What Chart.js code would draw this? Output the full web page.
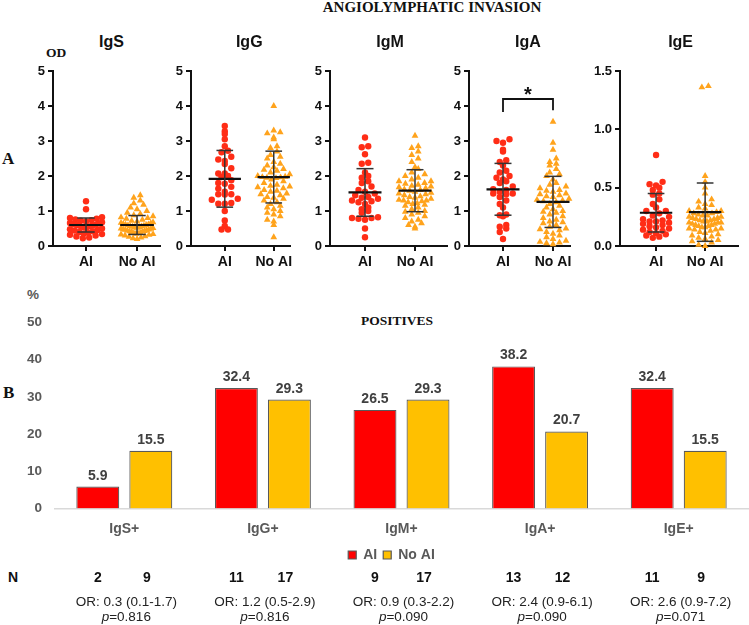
<!DOCTYPE html>
<html><head><meta charset="utf-8">
<script src="https://cdn.jsdelivr.net/npm/chart.js@4.4.1/dist/chart.umd.min.js"></script>
<style>
html,body{margin:0;padding:0;background:#fff;}
body{width:749px;height:625px;position:relative;overflow:hidden;font-family:"Liberation Sans",Arial,sans-serif;}
.t{position:absolute;white-space:nowrap;}
.serif{font-family:"Liberation Serif","Times New Roman",serif;font-weight:bold;color:#111;}
canvas{position:absolute;}
</style></head><body>
<div class="t serif" style="left:432px;top:0px;font-size:15px;line-height:15px;transform:translateX(-50%)">ANGIOLYMPHATIC INVASION</div>
<div class="t serif" style="left:46px;top:45.7px;font-size:13.5px;line-height:13.5px">OD</div>
<div class="t serif" style="left:2px;top:150px;font-size:17px;line-height:17px">A</div>
<div class="t serif" style="left:3px;top:384px;font-size:17px;line-height:17px">B</div>
<div class="t serif" style="left:397px;top:313.7px;font-size:13.5px;line-height:13.5px;transform:translateX(-50%)">POSITIVES</div>
<div class="t" style="left:27px;top:288px;font-size:13.5px;line-height:13.5px;font-weight:bold;color:#595959">%</div>
<div class="t" style="left:13px;top:569.9px;font-size:14px;line-height:14px;font-weight:bold;color:#111;transform:translateX(-50%)">N</div>
<script>
// ---------- DATA (panel A: OD values) ----------
const panelNames = ['IgS','IgG','IgM','IgA','IgE'];
const groupLabels = ['AI','No AI'];

const igsAI = [1.28,1.05,0.82,0.80,0.78,0.76,0.74,0.72,0.70,0.68,0.66,0.64,0.62,0.61,0.60,0.59,0.58,0.56,0.54,0.52,0.50,0.48,0.46,0.44,0.42,0.40,0.38,0.36,0.34,0.32,0.30,0.27,0.24,0.22];
const igsNoAI = [1.45,1.38,1.30,1.22,1.18,1.10,1.05,1.00,0.95,0.92,0.88,0.85,0.82,0.80,0.78,0.75,0.72,0.70,0.68,0.66,0.65,0.63,0.62,0.61,0.60,0.59,0.58,0.57,0.56,0.55,0.54,0.53,0.52,0.51,0.50,0.49,0.48,0.47,0.46,0.45,0.44,0.43,0.42,0.41,0.40,0.38,0.37,0.36,0.35,0.34,0.33,0.32,0.30,0.28,0.26,0.24,0.22,0.20];

const iggAI = [3.43,3.28,3.20,3.05,2.85,2.72,2.68,2.55,2.47,2.43,2.34,2.22,2.07,2.07,2.00,1.97,1.88,1.80,1.78,1.69,1.64,1.55,1.48,1.48,1.47,1.35,1.32,1.23,1.21,1.21,1.00,0.73,0.57,0.47,0.47];
const iggNoAI = [4.00,3.30,3.25,3.22,3.10,3.05,2.85,2.80,2.70,2.60,2.55,2.50,2.40,2.35,2.30,2.25,2.20,2.18,2.15,2.10,2.05,2.00,1.98,1.97,1.96,1.95,1.94,1.90,1.85,1.80,1.75,1.72,1.70,1.68,1.65,1.60,1.58,1.55,1.50,1.48,1.45,1.40,1.38,1.35,1.30,1.25,1.20,1.15,1.10,1.05,1.00,0.95,0.90,0.85,0.75,0.70,0.60,0.25];

const igmAI = [3.10,2.85,2.82,2.62,2.38,2.35,2.10,2.00,1.95,1.85,1.80,1.70,1.60,1.55,1.50,1.45,1.40,1.38,1.35,1.30,1.28,1.25,1.20,1.10,1.05,1.00,0.95,0.82,0.80,0.80,0.78,0.75,0.50,0.25];
const igmNoAI = [3.15,2.85,2.80,2.70,2.60,2.50,2.40,2.25,2.20,2.10,2.05,2.00,1.95,1.90,1.85,1.85,1.80,1.78,1.75,1.72,1.70,1.68,1.65,1.62,1.60,1.58,1.55,1.52,1.50,1.48,1.45,1.42,1.40,1.38,1.35,1.32,1.30,1.30,1.28,1.25,1.22,1.20,1.18,1.15,1.10,1.05,1.00,0.98,0.95,0.90,0.85,0.80,0.75,0.70,0.65,0.60,0.55,0.50];

const igaAI = [3.05,3.00,2.95,2.75,2.70,2.45,2.40,2.30,2.15,2.10,2.00,1.95,1.90,1.85,1.80,1.70,1.62,1.60,1.55,1.50,1.50,1.48,1.40,1.30,1.20,1.10,0.90,0.88,0.85,0.60,0.55,0.50,0.40,0.20];
const igaNoAI = [3.55,2.95,2.75,2.50,2.40,2.35,2.30,2.20,2.10,2.05,2.00,1.90,1.80,1.75,1.70,1.65,1.60,1.58,1.55,1.50,1.48,1.45,1.42,1.40,1.35,1.32,1.30,1.28,1.25,1.20,1.15,1.10,1.05,1.00,0.98,0.95,0.90,0.85,0.80,0.75,0.70,0.68,0.65,0.60,0.55,0.50,0.48,0.45,0.40,0.35,0.30,0.25,0.20,0.15,0.12,0.10,0.08,0.05];

const igeAI = [0.78,0.55,0.53,0.52,0.50,0.48,0.45,0.44,0.40,0.36,0.33,0.30,0.30,0.28,0.26,0.25,0.23,0.22,0.21,0.21,0.20,0.19,0.18,0.17,0.16,0.15,0.14,0.13,0.12,0.11,0.10,0.09,0.08,0.07];
const igeNoAI = [1.37,1.36,0.60,0.55,0.50,0.45,0.40,0.38,0.36,0.35,0.33,0.32,0.30,0.30,0.29,0.28,0.28,0.27,0.26,0.26,0.25,0.25,0.24,0.24,0.23,0.23,0.22,0.22,0.21,0.21,0.20,0.20,0.20,0.19,0.19,0.18,0.18,0.17,0.17,0.16,0.16,0.15,0.15,0.14,0.14,0.13,0.12,0.11,0.10,0.09,0.08,0.07,0.06,0.05,0.04,0.03,0.01,0.00];

// mean and SD
const meanAI   = [0.60, 1.92, 1.53, 1.62, 0.285];
const sdAI     = [0.20, 0.81, 0.68, 0.74, 0.165];
const meanNoAI = [0.60, 1.97, 1.58, 1.26, 0.29];
const sdNoAI   = [0.27, 0.74, 0.60, 0.73, 0.25];
const yMaxA  = [5, 5, 5, 5, 1.5];
const yStepA = [1, 1, 1, 1, 0.5];
// significance bracket on IgA
const sigPanel = 3;
const sigLevels = [3.83, 4.2, 4.2, 3.88];
const sigLabel = '*';

// ---------- DATA (panel B) ----------
const barCats = ['IgS+','IgG+','IgM+','IgA+','IgE+'];
const posAI   = [5.9, 32.4, 26.5, 38.2, 32.4];
const posNoAI = [15.5, 29.3, 29.3, 20.7, 15.5];
const nAI   = [2, 11, 9, 13, 11];
const nNoAI = [9, 17, 17, 12, 9];
const orText = ['0.3 (0.1-1.7)','1.2 (0.5-2.9)','0.9 (0.3-2.2)','2.4 (0.9-6.1)','2.6 (0.9-7.2)'];
const pVals  = ['0.816','0.816','0.090','0.090','0.071'];

// ---------- layout ----------
const FONT = '"Liberation Sans", Arial, sans-serif';
const aiSets = [igsAI, iggAI, igmAI, igaAI, igeAI];
const noSets = [igsNoAI, iggNoAI, igmNoAI, igaNoAI, igeNoAI];
const panelLayout = [
  {axis:53,  areaW:107, xmin:-0.647, xmax:1.45},
  {axis:191, areaW:99,  xmin:-0.69,  xmax:1.33},
  {axis:330, areaW:117, xmin:-0.70,  xmax:1.64},
  {axis:469, areaW:101, xmin:-0.68,  xmax:1.34},
  {axis:620, areaW:118, xmin:-0.735, xmax:1.67}
];
const PANEL_TOP = 60, PANEL_H = 220, PAD_T = 11, XAX_H = 34, YAX_W = 30, PAD_L = 2, PAD_R = 6;

function addText(html, cx, top, style) {
  const d = document.createElement('div');
  d.className = 't';
  d.innerHTML = html;
  d.style.cssText += 'left:' + cx + 'px;top:' + top + 'px;transform:translateX(-50%);' + style;
  document.body.appendChild(d);
}

// binned scatter-dot layout (points in the same row spread side by side)
function swarm(vals, pxY, pxX, binH, spacing, maxW) {
  const bins = {};
  vals.forEach((v, i) => {
    const b = Math.floor(v * pxY / binH);
    (bins[b] = bins[b] || []).push(i);
  });
  const off = new Array(vals.length).fill(0);
  Object.values(bins).forEach(list => {
    list.sort((a, b) => vals[a] - vals[b]);
    const n = list.length;
    const sp = n > 1 ? Math.min(spacing, maxW / (n - 1)) : 0;
    const slots = [];
    for (let j = 0; j < n; j++) slots.push((j - (n - 1) / 2) * sp);
    slots.sort((a, b) => Math.abs(a) - Math.abs(b) || a - b);
    list.forEach((idx, j) => { off[idx] = slots[j] / pxX; });
  });
  return off;
}

const starPlugin = {
  id: 'star',
  afterDatasetsDraw(chart, args, opts) {
    if (!opts.on) return;
    const ctx = chart.ctx, x = chart.scales.x, y = chart.scales.y;
    ctx.save();
    ctx.fillStyle = '#111';
    ctx.font = 'bold 20px ' + FONT;
    ctx.textAlign = 'center';
    ctx.textBaseline = 'alphabetic';
    ctx.fillText(sigLabel, x.getPixelForValue(0.5), y.getPixelForValue(sigLevels[1]) + 2);
    ctx.restore();
  }
};

panelNames.forEach((name, i) => {
  const L = panelLayout[i];
  const cv = document.createElement('canvas');
  const w = PAD_L + YAX_W + L.areaW + PAD_R;
  cv.width = w; cv.height = PANEL_H;
  cv.style.left = (L.axis - PAD_L - YAX_W) + 'px';
  cv.style.top = PANEL_TOP + 'px';
  document.body.appendChild(cv);
  const pxX = L.areaW / (L.xmax - L.xmin);
  const pxY = (PANEL_H - PAD_T - XAX_H) / yMaxA[i];
  const ai = aiSets[i], no = noSets[i];
  const offA = swarm(ai, pxY, pxX, 6, 6.5, 32), offN = swarm(no, pxY, pxX, 6, 6.5, 32);
  const line = (pts, color, width) => ({data: pts, showLine: true, borderColor: color, borderWidth: width,
     pointRadius: 0, pointHoverRadius: 0, order: 0, clip: false, fill: false});
  const ds = [];
  [[0, meanAI[i], sdAI[i]], [1, meanNoAI[i], sdNoAI[i]]].forEach(([c, m, s]) => {
    ds.push(line([{x: c, y: m - s}, {x: c, y: m + s}], '#333', 1.5));
    ds.push(line([{x: c - 0.17, y: m + s}, {x: c + 0.17, y: m + s}], '#333', 1.5));
    ds.push(line([{x: c - 0.17, y: m - s}, {x: c + 0.17, y: m - s}], '#333', 1.5));
    ds.push(line([{x: c - 0.33, y: m}, {x: c + 0.33, y: m}], '#111', 2.2));
  });
  if (i === sigPanel) {
    ds.push(line([{x: 0, y: sigLevels[0]}, {x: 0, y: sigLevels[1]}, {x: 1, y: sigLevels[2]}, {x: 1, y: sigLevels[3]}], '#111', 1.8));
  }
  ds.push({label: 'AI', data: ai.map((v, k) => ({x: offA[k], y: v})), pointStyle: 'circle', pointRadius: 3.2,
    backgroundColor: '#ff2d16', borderColor: '#ff2d16', borderWidth: 0, order: 1, clip: false});
  ds.push({label: 'No AI', data: no.map((v, k) => ({x: 1 + offN[k], y: v})), pointStyle: 'triangle', pointRadius: 3.9,
    backgroundColor: '#ffa31c', borderColor: '#ffa31c', borderWidth: 0, order: 1, clip: false});

  const axisGrid = {drawOnChartArea: false, drawTicks: true, tickLength: 5, color: '#111', lineWidth: 2};
  const ch = new Chart(cv, {
    type: 'scatter',
    data: {datasets: ds},
    plugins: [starPlugin],
    options: {
      responsive: false, animation: false, devicePixelRatio: 1,
      layout: {padding: {left: PAD_L, right: PAD_R, top: PAD_T, bottom: 0}},
      plugins: {legend: {display: false}, tooltip: {enabled: false}, star: {on: i === sigPanel}},
      scales: {
        x: {type: 'linear', min: L.xmin, max: L.xmax,
            afterBuildTicks: s => { s.ticks = [{value: 0}, {value: 1}]; },
            afterFit: s => { s.height = XAX_H; },
            ticks: {callback: v => groupLabels[v], color: '#111', font: {family: FONT, weight: 'bold', size: 14}, padding: 3, maxRotation: 0, autoSkip: false},
            grid: axisGrid, border: {display: true, color: '#111', width: 2}},
        y: {min: 0, max: yMaxA[i],
            ticks: {stepSize: yStepA[i], callback: v => (yMaxA[i] < 2 ? Number(v).toFixed(1) : v), color: '#111', font: {family: FONT, weight: 'bold', size: 13}, padding: 3},
            afterFit: s => { s.width = YAX_W; },
            grid: axisGrid, border: {display: true, color: '#111', width: 2}}
      }
    }
  });
  const left = L.axis - PAD_L - YAX_W;
  addText(name, left + ch.scales.x.getPixelForValue(0.5), 33.8, 'font-size:16px;line-height:16px;font-weight:bold;color:#111;');
});

// ---------- panel B ----------
const valueLabels = {
  id: 'valueLabels',
  afterDatasetsDraw(chart) {
    const ctx = chart.ctx;
    ctx.save();
    ctx.fillStyle = '#404040';
    ctx.font = 'bold 14px ' + FONT;
    ctx.textAlign = 'center';
    ctx.textBaseline = 'alphabetic';
    chart.data.datasets.forEach((d, di) => {
      chart.getDatasetMeta(di).data.forEach((el, k) => {
        ctx.fillText(d.data[k].toFixed(1), el.x, el.y - 7);
      });
    });
    ctx.restore();
  }
};
const legendShift = {
  id: 'legendShift',
  afterLayout(chart) {
    if (chart.legend) { chart.legend.left -= 10; chart.legend.right -= 10; chart.legend.top += 2; chart.legend.bottom += 2; }
  }
};
const bc = document.createElement('canvas');
bc.width = 749; bc.height = 280;
bc.style.left = '0px'; bc.style.top = '290px';
document.body.appendChild(bc);
const barChart = new Chart(bc, {
  type: 'bar',
  data: {labels: barCats, datasets: [
    {label: 'AI', data: posAI, backgroundColor: '#ff0000', borderColor: '#595959', borderWidth: 1.2, categoryPercentage: 0.765, barPercentage: 0.81},
    {label: 'No AI', data: posNoAI, backgroundColor: '#ffc000', borderColor: '#595959', borderWidth: 1.2, categoryPercentage: 0.765, barPercentage: 0.81}
  ]},
  plugins: [valueLabels, legendShift],
  options: {
    responsive: false, animation: false, devicePixelRatio: 1,
    layout: {padding: {left: 0, right: 1, top: 32.5, bottom: 0}},
    plugins: {
      tooltip: {enabled: false},
      legend: {position: 'bottom', fullSize: false, labels: {boxWidth: 8, boxHeight: 8, padding: 6, color: '#595959', font: {family: FONT, weight: 'bold', size: 14}}}
    },
    scales: {
      x: {grid: {display: false, drawTicks: false}, border: {display: true, color: '#d9d9d9', width: 1.5},
          ticks: {color: '#595959', font: {family: FONT, weight: 'bold', size: 14}, padding: 12},
          afterFit: s => { s.height = 31.5; }},
      y: {min: 0, max: 50, grid: {display: false, drawTicks: false}, border: {display: false},
          ticks: {stepSize: 10, color: '#595959', font: {family: FONT, weight: 'bold', size: 13.5}, padding: 13},
          afterFit: s => { s.width = 55; }}
    }
  }
});
const mA = barChart.getDatasetMeta(0), mN = barChart.getDatasetMeta(1);
barCats.forEach((c, k) => {
  const xa = mA.data[k].x, xn = mN.data[k].x;
  addText(String(nAI[k]), xa, 569.9, 'font-size:14px;line-height:14px;font-weight:bold;color:#111;');
  addText(String(nNoAI[k]), xn - 4, 569.9, 'font-size:14px;line-height:14px;font-weight:bold;color:#111;');
  const cx = (xa + xn) / 2 + 2;
  addText('OR: ' + orText[k], cx, 595.3, 'font-size:13.5px;line-height:13.5px;color:#222;');
  addText('<i>p</i>=' + pVals[k], cx, 610.3, 'font-size:13.5px;line-height:13.5px;color:#222;');
});
</script>
</body></html>
